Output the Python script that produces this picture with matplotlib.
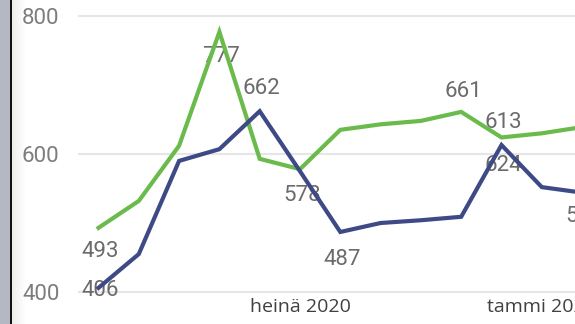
import matplotlib
matplotlib.use("Agg")
import matplotlib.pyplot as plt
import numpy as np
from matplotlib.patches import Rectangle

months = ["helmi 2020", "maalis 2020", "huhti 2020", "touko 2020", "kesä 2020",
          "heinä 2020", "elo 2020", "syys 2020", "loka 2020", "marras 2020",
          "joulu 2020", "tammi 2021", "helmi 2021"]
green_vals = [493, 532, 612, 777, 593, 578, 635, 643, 648, 661, 624, 630, 639]
blue_vals = [406, 455, 590, 607, 662, 575, 487, 500, 504, 509, 613, 552, 544]
xtick_idx = [5, 11]
yticks = [400, 600, 800]

# labelled points: (series, index, offset in points)
labels = [("g", 0, -17), ("b", 0, -2), ("g", 3, -18), ("b", 4, 16),
          ("g", 5, -19), ("b", 6, -20), ("g", 9, 15), ("b", 10, 16),
          ("g", 10, -20), ("b", 12, -17)]

GREEN = "#6abb4c"
BLUE = "#3e4a86"

W, H = 575, 324
fig = plt.figure(figsize=(W / 100, H / 100), dpi=100)
fig.patch.set_facecolor("white")

# left panel strip
fig.patches.append(Rectangle((0, 0), 9.5 / W, 1, transform=fig.transFigure,
                             facecolor="#b4b8c3", edgecolor="none", zorder=0))
fig.patches.append(Rectangle((9.5 / W, 0), 2.2 / W, 1, transform=fig.transFigure,
                             facecolor="#111111", edgecolor="none", zorder=1))
grad = np.linspace(0.93, 1.0, 30).reshape(1, -1)
gax = fig.add_axes([11.7 / W, 0, 14 / W, 1])
gax.imshow(grad, aspect="auto", cmap="gray", vmin=0, vmax=1, extent=[0, 1, 0, 1])
gax.axis("off")

left_px, right_px = 79, 575
top_px, bot_px = 16, 292
ax = fig.add_axes([left_px / W, 1 - bot_px / H, (right_px - left_px) / W,
                   (bot_px - top_px) / H])
x = np.arange(len(months))
x0_px, step_px = 98.5, 40.3
ax.set_xlim(-(x0_px - left_px) / step_px, (right_px - x0_px) / step_px)
ax.set_ylim(400, 800)

for v in yticks:
    ax.axhline(v, color="#e6e6e6", lw=1.5, zorder=1, clip_on=False)

ax.plot(x, green_vals, color=GREEN, lw=3, zorder=3, clip_on=False,
        solid_joinstyle="miter")
ax.plot(x, blue_vals, color=BLUE, lw=3, zorder=3, clip_on=False,
        solid_joinstyle="miter")

for s, i, off in labels:
    vals = green_vals if s == "g" else blue_vals
    ax.annotate(str(vals[i]), (x[i], vals[i]), xytext=(1.5, off),
                textcoords="offset points", ha="center", va="center",
                fontsize=16, color="#6b6b6b", family="Roboto",
                annotation_clip=False, zorder=2)

for sp in ax.spines.values():
    sp.set_visible(False)
ax.set_yticks(yticks)
ax.set_yticklabels([str(v) for v in yticks], fontsize=16, color="#7d7d7d",
                   family="Roboto")
ax.tick_params(axis="y", length=0, pad=14)
ax.set_xticks(xtick_idx)
ax.set_xticklabels([months[i] for i in xtick_idx], fontsize=14,
                   color="#404040", family="Open Sans")
ax.tick_params(axis="x", length=0, pad=4)
ax.set_facecolor("none")

fig.savefig("out.png", dpi=100)
